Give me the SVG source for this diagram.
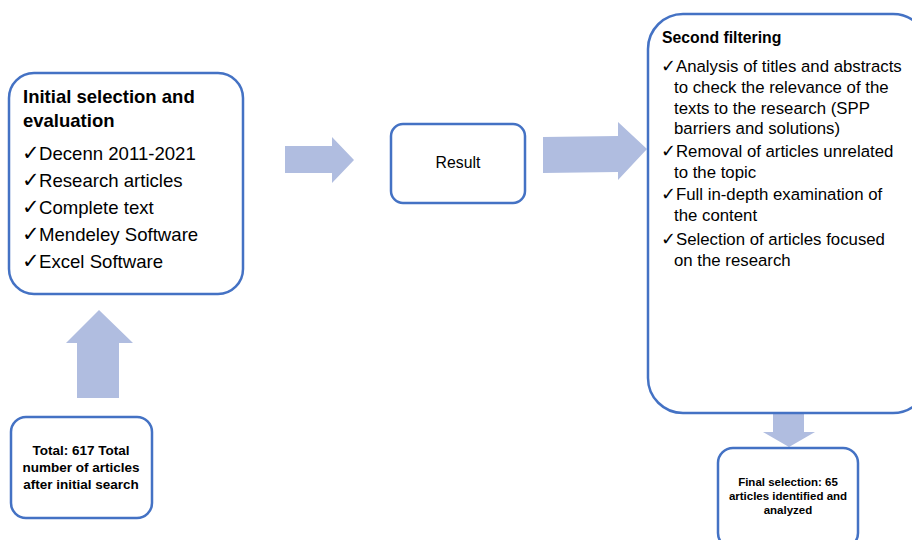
<svg xmlns="http://www.w3.org/2000/svg" width="912" height="540" viewBox="0 0 912 540">
<style>
.box{fill:#fff;stroke:#4472C4;stroke-width:2.5}
.arr{fill:#B0BDE0;stroke:none}
text{font-family:"Liberation Sans",Arial,sans-serif;fill:#000}
.b{font-weight:bold}
.ck{font-family:"DejaVu Sans",sans-serif}
.ck1{font-size:21px}
.ck2{font-size:18px}
</style>
<rect width="912" height="540" fill="#fff"/>
<g id="connectors">
<polygon class="arr" points="77,398 119,398 119,343 133,343 99,310 66,343 77,343"/>
<polygon class="arr" points="285,146 332,146 332,137 354,160 332,183 332,173 285,173"/>
<polygon class="arr" points="543,137 618,136 618,122 647,149 618,180 618,172 543,173"/>
<polygon class="arr" points="773,414 804,414 804,432 815,432 789,447 763,432 773,432"/>
</g>
<g id="initial">
<rect class="box" x="9" y="73" width="234" height="221" rx="25"/>
<text class="b" font-size="18.5" x="23" y="103">Initial selection and</text>
<text class="b" font-size="18.5" x="23" y="127">evaluation</text>
<g font-size="18.6">
<text class="ck ck1" x="22" y="160">✓</text><text x="39" y="160">Decenn 2011-2021</text>
<text class="ck ck1" x="22" y="187">✓</text><text x="39" y="187">Research articles</text>
<text class="ck ck1" x="22" y="214">✓</text><text x="39" y="214">Complete text</text>
<text class="ck ck1" x="22" y="241">✓</text><text x="39" y="241">Mendeley Software</text>
<text class="ck ck1" x="22" y="268">✓</text><text x="39" y="268">Excel Software</text>
</g>
</g>
<g id="total">
<rect class="box" x="11" y="417" width="141" height="101" rx="15"/>
<g class="b" font-size="13.5" text-anchor="middle">
<text x="81" y="455">Total: 617 Total</text>
<text x="81" y="472">number of articles</text>
<text x="81" y="489">after initial search</text>
</g>
</g>
<g id="result">
<rect class="box" x="391" y="124" width="134" height="79" rx="12"/>
<text x="458" y="168" font-size="15.8" text-anchor="middle">Result</text>
</g>
<g id="second">
<rect class="box" x="648" y="14" width="280" height="399" rx="35"/>
<text class="b" font-size="15.8" x="662" y="43">Second filtering</text>
<g font-size="16.8">
<text class="ck ck2" x="661" y="72">✓</text><text x="676" y="72">Analysis of titles and abstracts</text>
<text x="674" y="93">to check the relevance of the</text>
<text x="674" y="114">texts to the research (SPP</text>
<text x="674" y="134">barriers and solutions)</text>
<text class="ck ck2" x="661" y="157">✓</text><text x="676" y="157">Removal of articles unrelated</text>
<text x="674" y="178">to the topic</text>
<text class="ck ck2" x="661" y="200">✓</text><text x="676" y="200">Full in-depth examination of</text>
<text x="674" y="221">the content</text>
<text class="ck ck2" x="661" y="245">✓</text><text x="676" y="245">Selection of articles focused</text>
<text x="674" y="266">on the research</text>
</g>
</g>
<g id="final">
<rect class="box" x="718" y="448" width="140" height="100" rx="15"/>
<g class="b" font-size="11.5" text-anchor="middle">
<text x="788" y="486">Final selection: 65</text>
<text x="788" y="500">articles identified and</text>
<text x="788" y="514">analyzed</text>
</g>
</g>
</svg>
